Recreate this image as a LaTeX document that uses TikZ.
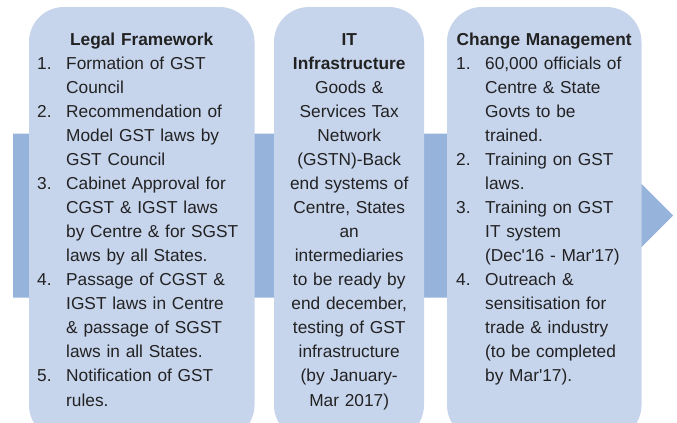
\documentclass[tikz,border=0pt]{standalone}
\usepackage{fontspec}
\setmainfont{Liberation Sans}
\begin{document}
\definecolor{bandblue}{HTML}{95B3DB}
\definecolor{boxblue}{HTML}{C6D4EC}
\definecolor{inkgray}{HTML}{222222}
\tikzset{
  panel/.style={fill=boxblue, draw=none, rounded corners=35bp},
  paneltext/.style={inner sep=0pt, anchor=base west, text=inkgray,
    font=\fontsize{17.3bp}{24.07bp}\selectfont},
}
% numbered entry with hanging indent; lines inside are broken with \newline
\newcommand{\stepitem}[2]{\noindent\hangindent=29bp\hangafter=1\makebox[29bp][l]{#1}#2\par}
\newcommand{\paneltitle}[1]{{\centering\bfseries #1\par}}
\begin{tikzpicture}[x=1bp, y=-1bp]
  \useasboundingbox (0,0) rectangle (677,422);
  \begin{scope}
    \clip (0,0) rectangle (677,422);
    % process arrow behind the panels
    \fill[bandblue] (13,133.5) -- (580,133.5) -- (580,122) -- (673,215.5)
      -- (580,309) -- (580,297.5) -- (13,297.5) -- cycle;
    % panels
    \fill[panel] (29,7) rectangle (254.5,440);
    \fill[panel] (274,7) rectangle (424,440);
    \fill[panel] (447,7) rectangle (641.5,440);
  \end{scope}

  \node[paneltext, text width=209bp] (legal) at (37,45) {%
    \paneltitle{Legal Framework}%
    \raggedright
    \stepitem{1.}{Formation of GST\newline Council}%
    \stepitem{2.}{Recommendation of\newline Model GST laws by\newline GST Council}%
    \stepitem{3.}{Cabinet Approval for\newline CGST \& IGST laws\newline by Centre \& for SGST\newline laws by all States.}%
    \stepitem{4.}{Passage of CGST \&\newline IGST laws in Centre\newline \& passage of SGST\newline laws in all States.}%
    \stepitem{5.}{Notification of GST\newline rules.}};

  \node[paneltext, text width=150bp, align=center] (infra) at (274,45) {%
    \textbf{IT}\\\textbf{Infrastructure}\\Goods \&\\Services Tax\\Network\\(GSTN)-Back\\end systems of\\Centre, States\\an\\intermediaries\\to be ready by\\end december,\\testing of GST\\infrastructure\\(by January-\\Mar 2017)};

  \node[paneltext, text width=176bp] (change) at (456,45) {%
    \paneltitle{Change Management}%
    \raggedright
    \stepitem{1.}{60,000 officials of\newline Centre \& State\newline Govts to be\newline trained.}%
    \stepitem{2.}{Training on GST\newline laws.}%
    \stepitem{3.}{Training on GST\newline IT system\newline (Dec\textquotesingle16 - Mar\textquotesingle17)}%
    \stepitem{4.}{Outreach \&\newline sensitisation for\newline trade \& industry\newline (to be completed\newline by Mar\textquotesingle17).}};
\end{tikzpicture}
\end{document}
